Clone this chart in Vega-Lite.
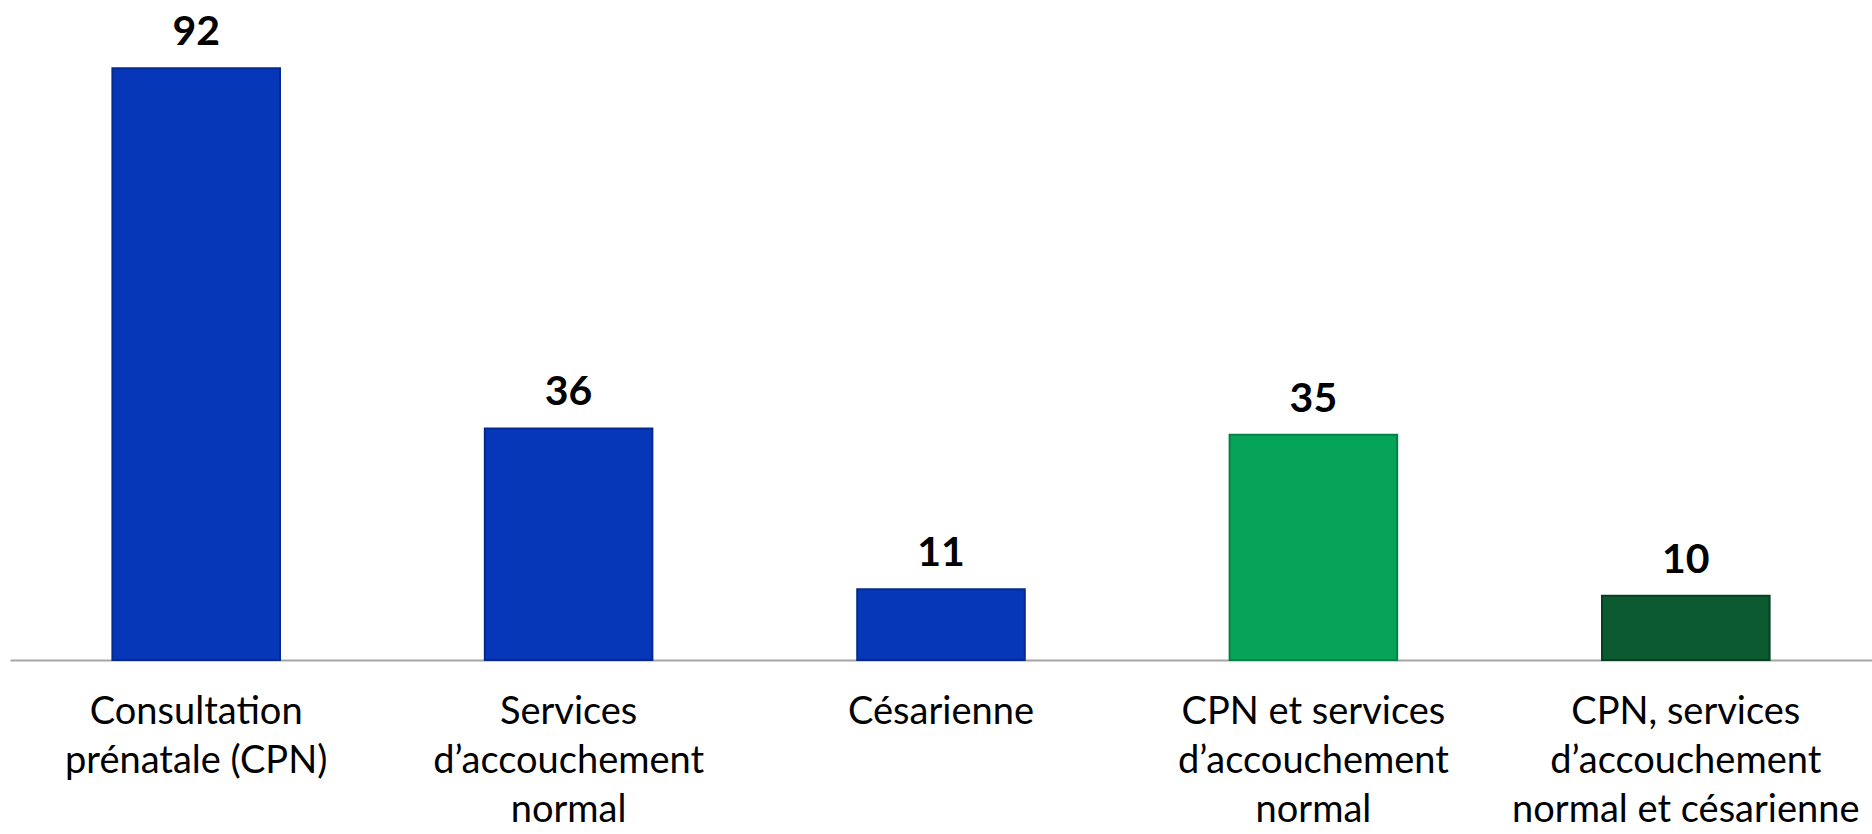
{
  "$schema": "https://vega.github.io/schema/vega-lite/v6.json",
  "width": 1862,
  "height": 660,
  "autosize": {"type": "none"},
  "padding": {"left": 10, "top": 0, "right": 0, "bottom": 174},
  "background": "white",
  "config": {"view": {"stroke": null}},
  "data": {
    "values": [
      {"category": "Consultation|prénatale (CPN)", "value": 92, "group": "A"},
      {"category": "Services|d’accouchement|normal", "value": 36, "group": "A"},
      {"category": "Césarienne", "value": 11, "group": "A"},
      {"category": "CPN et services|d’accouchement|normal", "value": 35, "group": "B"},
      {"category": "CPN, services|d’accouchement|normal et césarienne", "value": 10, "group": "C"}
    ]
  },
  "encoding": {
    "x": {
      "field": "category",
      "type": "nominal",
      "sort": null,
      "scale": {"paddingInner": 0.55, "paddingOuter": 0.275},
      "axis": {
        "title": null,
        "labelAngle": 0,
        "labelExpr": "split(datum.label, '|')",
        "labelFont": "Lato",
        "labelFontSize": 38,
        "labelColor": "#000000",
        "labelLineHeight": 49,
        "labelPadding": 52,
        "labelBaseline": "middle",
        "labelLimit": 0,
        "labelOverlap": false,
        "ticks": false,
        "domainColor": "#A6A6A6",
        "domainWidth": 2,
        "grid": false
      }
    },
    "y": {
      "field": "value",
      "type": "quantitative",
      "scale": {"domain": [0, 102.6], "nice": false, "zero": true},
      "axis": null
    }
  },
  "layer": [
    {
      "mark": {"type": "bar", "strokeWidth": 2},
      "encoding": {
        "color": {
          "field": "group",
          "type": "nominal",
          "scale": {"domain": ["A", "B", "C"], "range": ["#0637B8", "#06A459", "#0B5A30"]},
          "legend": null
        },
        "stroke": {
          "field": "group",
          "type": "nominal",
          "scale": {"domain": ["A", "B", "C"], "range": ["#042A8C", "#058045", "#073F22"]},
          "legend": null
        }
      }
    },
    {
      "mark": {
        "type": "text",
        "baseline": "bottom",
        "dy": -14,
        "font": "Lato",
        "fontSize": 41,
        "fontWeight": "bold",
        "color": "#000000"
      },
      "encoding": {
        "text": {"field": "value", "type": "quantitative"}
      }
    }
  ]
}
